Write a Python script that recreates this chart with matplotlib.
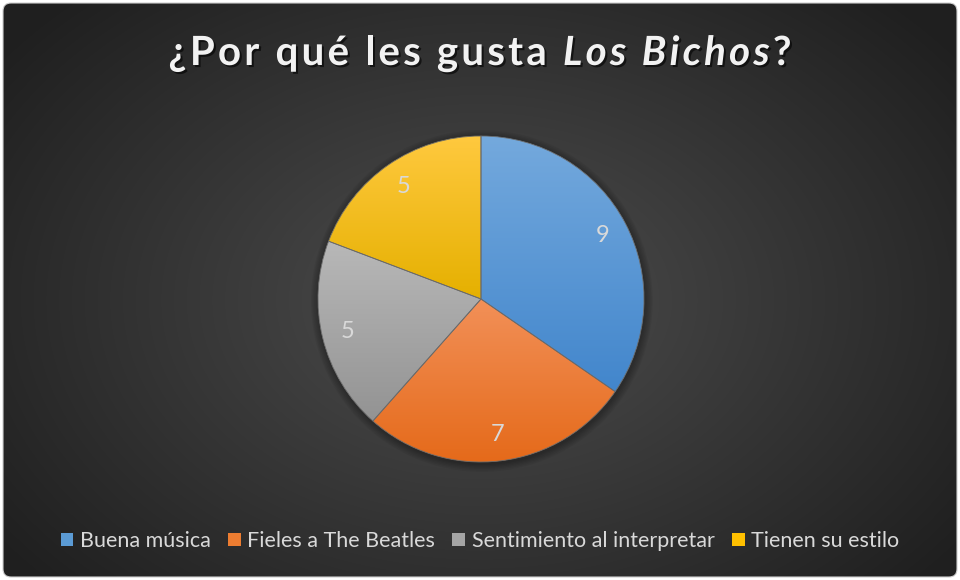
import numpy as np
import matplotlib
matplotlib.use("Agg")
import matplotlib.pyplot as plt
import matplotlib.patheffects as pe
from matplotlib.patches import FancyBboxPatch, Patch, Wedge, Circle
from matplotlib.colors import to_rgb

# data
categories = ["Buena música", "Fieles a The Beatles", "Sentimiento al interpretar", "Tienen su estilo"]
values = [9, 7, 5, 5]
colors = ["#5b9bd5", "#ed7d31", "#a5a5a5", "#ffc000"]
tops = ["#74a9dd", "#f29058", "#b8b8b8", "#ffc93f"]
bottoms = ["#4286cc", "#e56a1a", "#939393", "#e5b000"]

title_parts = [("¿Por qué les gusta ", "normal"), ("Los Bichos", "italic"), ("?", "normal")]

W, H = 960, 580
FONT = "Lato"
plt.rcParams["font.family"] = [FONT, "DejaVu Sans"]

fig = plt.figure(figsize=(W / 100, H / 100), dpi=100, facecolor="white")

# dark radial background with rounded frame
bg = fig.add_axes([0, 0, 1, 1])
yy, xx = np.mgrid[0:H, 0:W]
d = np.clip(np.sqrt(((xx - 480) / 600) ** 2 + ((yy - 300) / 420) ** 2), 0, 1)
c0 = np.array(to_rgb("#4e4e4e"))
c1 = np.array(to_rgb("#1f1f1f"))
img = c0 + (c1 - c0) * d[..., None]
im = bg.imshow(img, extent=(0, W, H, 0), interpolation="bilinear")
frame = FancyBboxPatch((3, 3), W - 6, H - 6, boxstyle="round,pad=0,rounding_size=8",
                       fc="none", ec="#cfcfcf", lw=0.8)
bg.add_patch(frame)
im.set_clip_path(frame)
bg.set_xlim(0, W)
bg.set_ylim(H, 0)
bg.axis("off")

# pie
r, cx, cy = 163, 481, 299
pad = 1.06
ax = fig.add_axes([(cx - r * pad) / W, (H - cy - r * pad) / H, 2 * r * pad / W, 2 * r * pad / H])
total = sum(values)
wedges, _, autotexts = ax.pie(values, startangle=90, counterclock=False, colors=colors,
                              autopct=lambda p: f"{round(p * total / 100)}", pctdistance=0.84,
                              wedgeprops=dict(lw=0),
                              textprops=dict(color="#d9d9d9", fontsize=17))

# soft shadow behind the pie
for k in range(6):
    ax.add_patch(Circle((0.005, -0.012), 1.0 + 0.008 * (k + 1), fc="black",
                        alpha=0.05, lw=0, zorder=0, clip_on=False))

# vertical gradient fill in each slice
for w, top, bot in zip(wedges, tops, bottoms):
    bb = w.get_path().get_extents()
    t = np.linspace(0, 1, 256)[:, None, None]
    grad = np.array(to_rgb(top)) + (np.array(to_rgb(bot)) - np.array(to_rgb(top))) * t
    g = ax.imshow(grad, extent=(bb.x0, bb.x1, bb.y0, bb.y1), origin="upper",
                  aspect="auto", zorder=1.5, interpolation="bilinear")
    g.set_clip_path(w)
    ax.add_patch(Wedge(w.center, w.r, w.theta1, w.theta2, fc="none",
                       ec="#6a6a6a", lw=0.6, zorder=2))
for t in autotexts:
    t.set_zorder(5)
ax.set_xlim(-pad, pad)
ax.set_ylim(-pad, pad)
ax.axis("off")

# title, drawn char by char so it can be letter-spaced like the original
fig.canvas.draw()
rend = fig.canvas.get_renderer()
tkw = dict(fontsize=29, fontweight="bold", color="#f2f2f2", va="baseline", ha="left")


def char_width(ch, style):
    if ch == " ":
        return char_width("a a", style) - char_width("aa", style)
    tt = fig.text(0, 0, ch, fontstyle=style, **tkw)
    wpx = tt.get_window_extent(rend).width
    tt.remove()
    return wpx


tracking = 3.2
chars = [(ch, st) for s, st in title_parts for ch in s]
advances = [char_width(ch, st) + tracking for ch, st in chars]
total_w = sum(advances) - tracking
x = W / 2 - total_w / 2
base_y = 65
shadow = [pe.withSimplePatchShadow(offset=(1.5, -1.5), shadow_rgbFace="black", alpha=0.6)]
for (ch, st), adv in zip(chars, advances):
    if ch != " ":
        fig.text(x / W, 1 - base_y / H, ch, fontstyle=st, path_effects=shadow, **tkw)
    x += adv

# legend
handles = [Patch(fc=c, ec="none") for c in colors]
fig.legend(handles, categories, loc="center", bbox_to_anchor=(0.5, 1 - 541 / H), ncol=4,
           frameon=False, fontsize=15.5, labelcolor="#d9d9d9", handlelength=0.6,
           handleheight=0.6, handletextpad=0.3, columnspacing=0.8)

fig.savefig("out.png", dpi=100, facecolor="white")
